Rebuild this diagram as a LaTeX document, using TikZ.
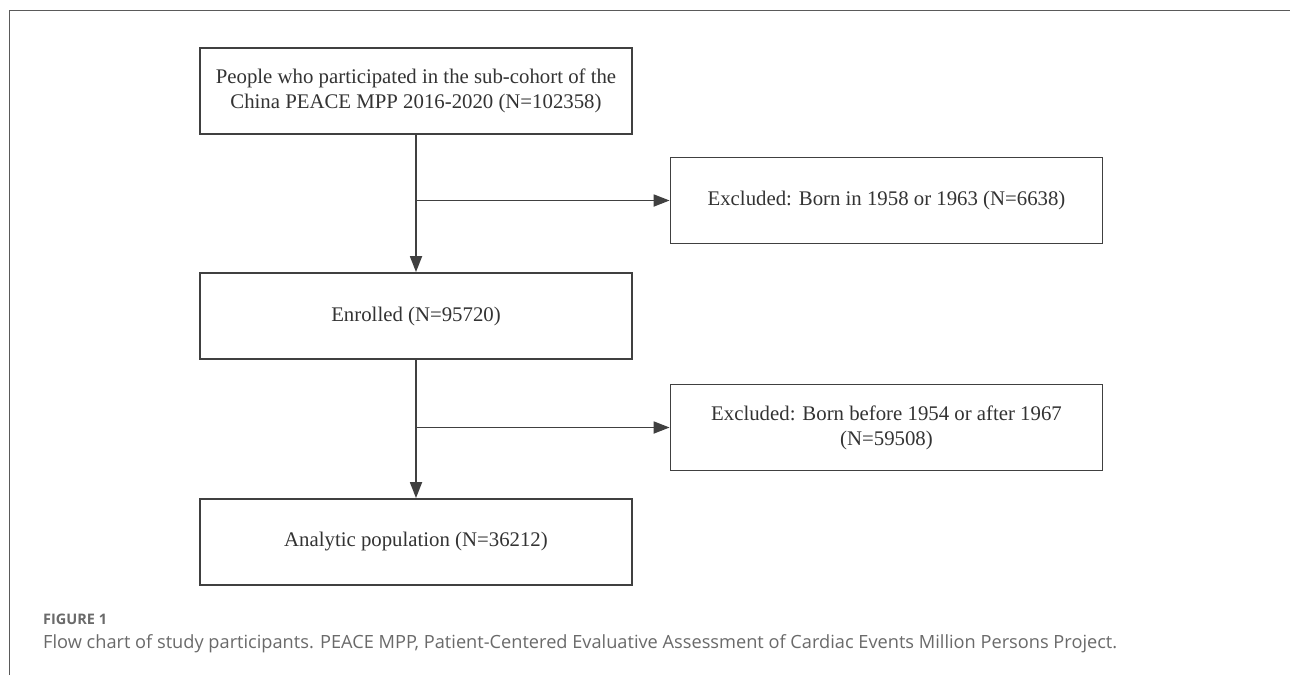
\documentclass[tikz,border=0pt]{standalone}
\usepackage{fontspec}
\setmainfont{Liberation Serif}
\newfontfamily\capfont{Open Sans}
\usetikzlibrary{arrows.meta}
\definecolor{ink}{HTML}{404040}
\definecolor{framegray}{HTML}{5a5a5a}
\definecolor{capgray}{HTML}{6a6a6a}
\definecolor{boxtext}{HTML}{333333}
\begin{document}
\begin{tikzpicture}[x=1pt,y=-1pt,
  box/.style={draw=ink, line width=1.8pt, minimum width=432pt, minimum height=86pt,
    inner sep=0pt, align=center, text=boxtext, font=\fontsize{20.8}{25}\selectfont},
  flow/.style={draw=ink, line width=1.8pt, -{Triangle[length=16pt,width=12pt]}},
  figlabel/.style={anchor=base west, inner sep=0pt, text=capgray, font=\capfont\bfseries\fontsize{14.5}{17}\selectfont},
  captext/.style={anchor=base west, inner sep=0pt, text=capgray, font=\capfont\fontsize{18.2}{22}\selectfont}
]
\useasboundingbox (0,0) rectangle (1290,675);
\fill[white] (0,0) rectangle (1290,675);
\draw[framegray, line width=1pt] (9,675) -- (9,10) -- (1290,10);

\node[box] (top) at (416,91) {People who participated in the sub-cohort of the\\China PEACE MPP 2016-2020 (N=102358)};
\node[box] (ex1) at (886.5,200.5) {Excluded: Born in 1958 or 1963 (N=6638)};
\node[box] (enr) at (416,316) {Enrolled (N=95720)};
\node[box] (ex2) at (886.5,427.5) {Excluded: Born before 1954 or after 1967\\(N=59508)};
\node[box] (ana) at (416,542) {Analytic population (N=36212)};

\draw[flow] (top.south) -- (enr.north);
\draw[flow] (top.south |- ex1.west) -- (ex1.west);
\draw[flow] (enr.south) -- (ana.north);
\draw[flow] (enr.south |- ex2.west) -- (ex2.west);

\node[figlabel] (fig) at (43,624) {FIGURE 1};
\node[captext] (cap) at (43,648) {Flow chart of study participants. PEACE MPP, Patient-Centered Evaluative Assessment of Cardiac Events Million Persons Project.};
\end{tikzpicture}
\end{document}
